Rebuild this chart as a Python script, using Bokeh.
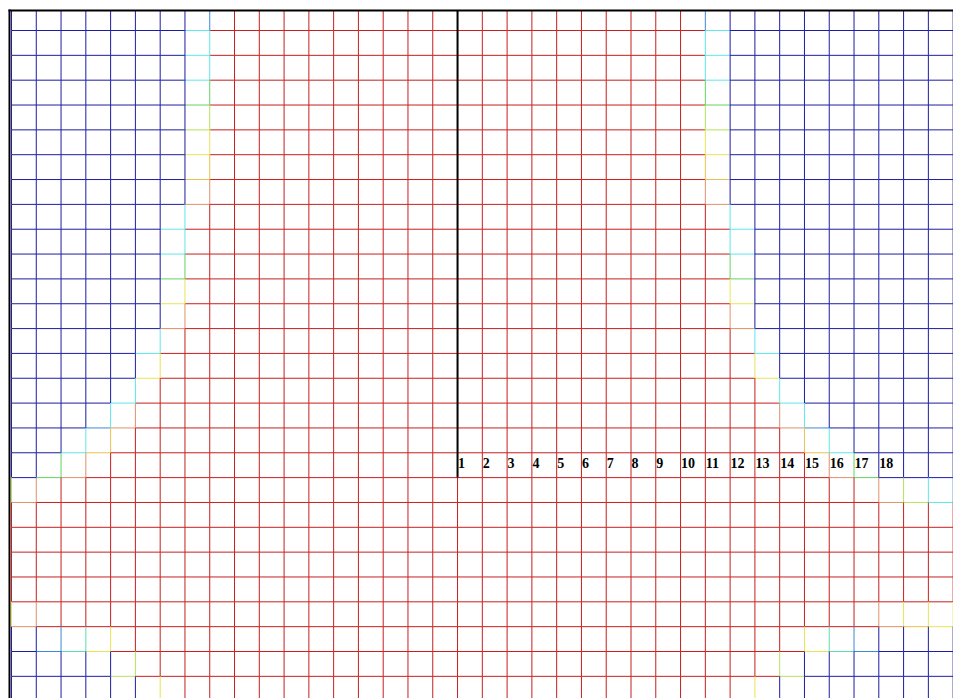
from bokeh.plotting import figure
from bokeh.models import ColumnDataSource, Range1d
from bokeh.core.properties import value
from bokeh.embed import file_html
from bokeh.resources import INLINE

# colour index -> colour (jet-like scale, 0 = low/blue, 9 = high/red)
palette = ["#1c1ca4", "#3a8ad8", "#5ee6ea", "#5cdcb0", "#62d262",
           "#b4e35a", "#e8e452", "#e8c24e", "#e0906a", "#c81e1e"]

# colour of each horizontal grid segment, one string per grid row (k = 0..26),
# one digit per cell column (C = 1..38)
h_rows = [
    "0000000 2 99999 99999 99999 99999 2 00000 0000",
    "0000000 2 99999 99999 99999 99999 2 00000 0000",
    "0000000 2 99999 99999 99999 99999 2 00000 0000",
    "0000000 4 99999 99999 99999 99999 4 00000 0000",
    "0000000 5 99999 99999 99999 99999 5 00000 0000",
    "0000000 6 99999 99999 99999 99999 6 00000 0000",
    "0000000 7 99999 99999 99999 99999 7 00000 0000",
    "0000000 8 99999 99999 99999 99999 8 00000 0000",
    "000000 2 99999 99999 99999 99999 99 2 00000 000",
    "000000 2 99999 99999 99999 99999 99 2 00000 000",
    "000000 4 99999 99999 99999 99999 99 4 00000 000",
    "000000 6 99999 99999 99999 99999 99 6 00000 000",
    "000000 8 99999 99999 99999 99999 99 8 00000 000",
    "00000 2 99999 99999 99999 99999 9999 2 00000 00",
    "00000 6 99999 99999 99999 99999 9999 6 00000 00",
    "0000 2 99999 99999 99999 99999 99999 9 2 00000 0",
    "000 1 8 99999 99999 99999 99999 99999 9 8 1 00000",
    "00 2 7 99999 99999 99999 99999 99999 999 7 2 0000",
    "0 4 8 99999 99999 99999 99999 99999 99999 8 4 000",
    "8 99999 99999 99999 99999 99999 99999 9999 8 5 2",
    "99999 99999 99999 99999 99999 99999 99999 999",
    "99999 99999 99999 99999 99999 99999 99999 999",
    "99999 99999 99999 99999 99999 99999 99999 999",
    "99999 99999 99999 99999 99999 99999 99999 999",
    "8 99999 99999 99999 99999 99999 99999 9999 8 7 6",
    "0 1 3 6 99999 99999 99999 99999 99999 999 6 3 1 000",
    "0000 5 99999 99999 99999 99999 99999 9 5 00000 0",
]

# colour of each vertical grid segment, one string per cell row (R = 0..27),
# one digit per grid column line (j = 0..38)
v_rows = [
    "00000000 1 99999 99999 99999 9999 1 00000 00000",
    "00000000 2 99999 99999 99999 9999 2 00000 00000",
    "00000000 2 99999 99999 99999 9999 2 00000 00000",
    "00000000 4 99999 99999 99999 9999 4 00000 00000",
    "00000000 5 99999 99999 99999 9999 5 00000 00000",
    "00000000 6 99999 99999 99999 9999 6 00000 00000",
    "00000000 7 99999 99999 99999 9999 7 00000 00000",
    "00000000 8 99999 99999 99999 9999 8 00000 00000",
    "0000000 2 99999 99999 99999 99999 9 2 00000 0000",
    "0000000 2 99999 99999 99999 99999 9 2 00000 0000",
    "0000000 4 99999 99999 99999 99999 9 4 00000 0000",
    "0000000 6 99999 99999 99999 99999 9 6 00000 0000",
    "0000000 8 99999 99999 99999 99999 9 8 00000 0000",
    "000000 2 99999 99999 99999 99999 999 2 00000 000",
    "000000 6 99999 99999 99999 99999 999 6 00000 000",
    "00000 2 99999 99999 99999 99999 99999 2 00000 00",
    "0000 2 8 99999 99999 99999 99999 99999 8 2 00000 0",
    "000 2 7 99999 99999 99999 99999 99999 99 7 2 00000",
    "00 4 8 99999 99999 99999 99999 99999 9999 8 4 0000",
    "5 8 99999 99999 99999 99999 99999 99999 999 8 5 2 1",
    "99999 99999 99999 99999 99999 99999 99999 9999",
    "99999 99999 99999 99999 99999 99999 99999 9999",
    "99999 99999 99999 99999 99999 99999 99999 9999",
    "99999 99999 99999 99999 99999 99999 99999 9999",
    "6 8 99999 99999 99999 99999 99999 99999 999 8 6 6 6",
    "00 1 3 6 99999 99999 99999 99999 99999 99 6 3 1 0000",
    "00000 5 99999 99999 99999 99999 99999 5 00000 00",
    "000000 6 99999 99999 99999 99999 999 6 00000 000",
]

# tick labels and where the axis sits (grid column / grid row)
tick_labels = [str(i) for i in range(1, 19)]
axis_col = 18
axis_row = 18

h_rows = [r.replace(" ", "") for r in h_rows]
v_rows = [r.replace(" ", "") for r in v_rows]
for r in h_rows:
    assert len(r) == 38, (len(r), r)
for r in v_rows:
    assert len(r) == 39, (len(r), r)

# view geometry (pixels per grid unit and offsets of the first grid lines)
W, H = 953, 698
cw, ch = 24.78, 24.84
x_start = -11.0 / cw
x_end = x_start + W / cw
y_top = -30.0 / ch
y_bottom = y_top + H / ch
frame_left = x_start + 9.0 / cw
frame_top = y_top + 10.0 / ch

x0, y0, x1, y1, col = [], [], [], [], []
for k, row in enumerate(h_rows):
    for c, d in enumerate(row):
        x0.append(c); x1.append(c + 1); y0.append(k); y1.append(k)
        col.append(palette[int(d)])
for r, row in enumerate(v_rows):
    for j, d in enumerate(row):
        top = r - 1 if r > 0 else frame_top
        x0.append(j); x1.append(j); y0.append(top); y1.append(r)
        col.append(palette[int(d)])

src = ColumnDataSource(dict(x0=x0, y0=y0, x1=x1, y1=y1, color=col))

p = figure(width=W, height=H, x_range=Range1d(x_start, x_end),
           y_range=Range1d(y_bottom, y_top), output_backend="svg",
           toolbar_location=None, x_axis_location=None, y_axis_location=None,
           min_border=0, outline_line_color=None,
           background_fill_color="white", border_fill_color="white")
p.grid.visible = False

p.segment(x0="x0", y0="y0", x1="x1", y1="y1", line_color="color",
          line_width=1, source=src)

# axis line
p.segment(x0=[axis_col], y0=[frame_top], x1=[axis_col], y1=[axis_row],
          line_color="black", line_width=2)

# tick labels
lab = ColumnDataSource(dict(
    x=[axis_col + i for i in range(len(tick_labels))],
    y=[axis_row - 0.57] * len(tick_labels),
    t=tick_labels))
p.text(x="x", y="y", text="t", source=lab, text_align="left",
       text_baseline="middle", text_font=value("Liberation Serif"),
       text_font_style="bold", text_font_size="14px", text_color="black",
       x_offset=0.5)

# frame lines (top and left), starting at the frame corner
p.segment(x0=[frame_left - 1.0 / cw, frame_left],
          y0=[frame_top, frame_top - 1.0 / ch],
          x1=[x_end, frame_left],
          y1=[frame_top, y_bottom],
          line_color="black", line_width=2)

open("out.html", "w").write(file_html(p, INLINE))
